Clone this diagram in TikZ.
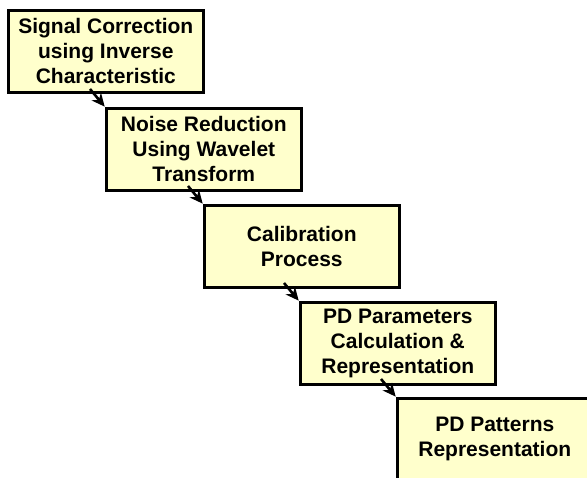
\documentclass[tikz,border=0pt]{standalone}
\usepackage{fontspec}
\setmainfont{Liberation Sans}
\usetikzlibrary{arrows.meta,calc}
\definecolor{boxfill}{HTML}{FFFFCC}
\tikzset{
  stagebox/.style={draw=black, line width=2.6pt, fill=boxfill, rectangle,
    minimum width=195pt, minimum height=82pt, anchor=north west,
    align=center, inner sep=2pt,
    font=\fontsize{21pt}{25pt}\selectfont\bfseries},
  flow/.style={line width=2.6pt, -{Stealth[length=13pt,width=12pt,inset=4pt]}, shorten >=0.5pt}
}
\begin{document}
\begin{tikzpicture}[x=1pt,y=-1pt]
  \useasboundingbox (0,0) rectangle (587,478);
  \clip (0,0) rectangle (587,478);
  \node[stagebox] (s1) at (7,9)     {Signal Correction\\using Inverse\\Characteristic};
  \node[stagebox] (s2) at (105,107) {Noise Reduction\\Using Wavelet\\Transform};
  \node[stagebox] (s3) at (203,204) {Calibration\\Process};
  \node[stagebox] (s4) at (299,301) {PD Parameters\\Calculation \&\\Representation};
  \node[stagebox] (s5) at (396,397) {PD Patterns\\Representation};
  \foreach \a/\b in {s1/s2,s2/s3,s3/s4,s4/s5}{
    \draw[flow] ($(\b.north west)+(-15,-18)$ |- \a.south) -- (\b.north west);
  }
\end{tikzpicture}
\end{document}
